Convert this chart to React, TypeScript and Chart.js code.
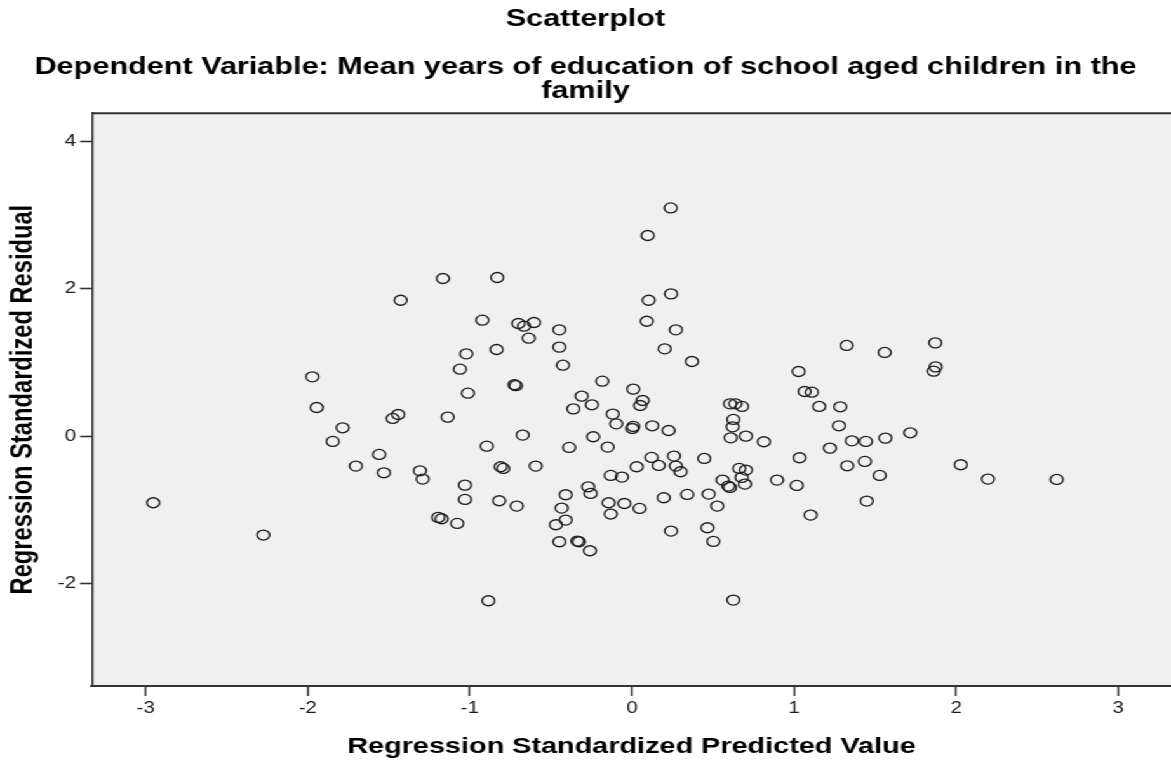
import React, { useEffect, useRef } from "react";
import { Chart, registerables } from "chart.js";

Chart.register(...registerables);

const TITLE = "Scatterplot";
const SUBTITLE = [
  "Dependent Variable: Mean years of education of school aged children in the",
  "family",
];
const X_TITLE = "Regression Standardized Predicted Value";
const Y_TITLE = "Regression Standardized Residual";
const X_TICKS = [-3, -2, -1, 0, 1, 2, 3];
const Y_TICKS = [-2, 0, 2, 4];

const predicted = [
  -2.953, -2.274, -1.972, -1.945, -1.785, -1.846, -1.703, -1.559, -1.53, -1.476, -1.442, -1.427,
  0.239, 0.097, -1.166, -0.831, 0.103, 0.241, -0.923, -0.701, -0.666, -0.605, -0.448, -0.637,
  0.091, 0.271, 0.202, 0.37, -0.448, -0.426, -1.022, -0.835, -1.061, -1.012, -0.725, -0.716,
  -0.183, -0.31, -0.247, -0.362, 0.008, 0.066, 0.051, -0.119, -0.097, 0.008, 0.002, 0.125,
  0.226, 0.605, 0.638, 0.679, 0.625, 0.621, -1.137, -0.674,
  0.609, 0.703, 0.814, -0.896, -0.387, -0.239, -0.15, -1.308, -1.291, -0.81, -0.794, -0.594,
  -1.03, -1.03, -0.819, -0.711, -1.195, -1.174, -1.078, -0.886, -0.409, -0.434, -0.409, -0.469,
  -0.448, -0.337, -0.327, -0.259, -0.27, -0.255, -0.131, -0.062, 0.029, 0.121, 0.165, 0.259,
  0.271, 0.3, 0.446, -0.144, -0.131, -0.047, 0.047, 0.196, 0.341, 0.473, 0.526, 0.241,
  0.465, 0.502, 0.625, 0.559, 0.594, 0.605, 0.662, 0.703, 0.677, 0.697, 0.895,
  1.324, 1.559, 1.871, 1.873, 1.861, 1.028, 1.065, 1.11, 1.155, 1.285, 1.277, 1.357,
  1.443, 1.563, 1.717, 1.221, 1.034, 1.328, 1.437, 1.528, 1.016, 2.028, 2.196, 2.62,
  1.448, 1.102,
];

const residual = [
  -0.905, -1.343, 0.805, 0.389, 0.113, -0.072, -0.407, -0.248, -0.498, 0.24, 0.294, 1.845,
  3.098, 2.723, 2.14, 2.153, 1.845, 1.931, 1.574, 1.529, 1.493, 1.543, 1.443, 1.33,
  1.56, 1.443, 1.185, 1.013, 1.208, 0.963, 1.117, 1.176, 0.909, 0.583, 0.697, 0.685,
  0.746, 0.543, 0.425, 0.37, 0.638, 0.484, 0.416, 0.299, 0.167, 0.132, 0.104, 0.14,
  0.077, 0.438, 0.438, 0.403, 0.227, 0.126, 0.258, 0.014,
  -0.023, 0.0, -0.077, -0.136, -0.153, -0.009, -0.149, -0.471, -0.583, -0.416, -0.438, -0.407,
  -0.665, -0.859, -0.877, -0.95, -1.103, -1.122, -1.185, -2.235, -0.796, -0.977, -1.14, -1.203,
  -1.434, -1.425, -1.434, -1.556, -0.688, -0.778, -0.533, -0.556, -0.416, -0.289, -0.398, -0.271,
  -0.407, -0.484, -0.303, -0.905, -1.058, -0.914, -0.981, -0.837, -0.791, -0.787, -0.95, -1.289,
  -1.244, -1.429, -2.226, -0.597, -0.678, -0.696, -0.438, -0.461, -0.56, -0.651, -0.597,
  1.231, 1.136, 1.266, 0.94, 0.882, 0.877, 0.606, 0.597, 0.403, 0.398, 0.14, -0.064,
  -0.072, -0.027, 0.045, -0.163, -0.294, -0.403, -0.343, -0.533, -0.669, -0.389, -0.583, -0.588,
  -0.882, -1.072,
];

const OUT_W = 1171;
const H = 761;
const NAT_W = 922;
const STRETCH = OUT_W / NAT_W;
const FONT = "'Liberation Sans', Arial, Helvetica, sans-serif";

const plotFrame = {
  id: "plotFrame",
  beforeDraw(chart: any) {
    const { ctx, chartArea } = chart;
    ctx.save();
    ctx.fillStyle = "#f0f0f0";
    ctx.fillRect(chartArea.left, chartArea.top, chartArea.right - chartArea.left, chartArea.bottom - chartArea.top);
    ctx.restore();
  },
  afterDraw(chart: any) {
    const { ctx, chartArea } = chart;
    ctx.save();
    ctx.strokeStyle = "#333";
    ctx.lineWidth = 2;
    ctx.beginPath();
    ctx.moveTo(chartArea.left, chartArea.top);
    ctx.lineTo(chartArea.right, chartArea.top);
    ctx.stroke();
    ctx.restore();
  },
};

export default function App() {
  const ref = useRef<HTMLCanvasElement>(null);

  useEffect(() => {
    const canvas = ref.current;
    if (!canvas) return;
    const points = predicted.map((x, i) => ({ x, y: residual[i] }));
    const chart = new Chart(canvas, {
      type: "scatter",
      data: {
        datasets: [
          {
            data: points,
            pointStyle: "circle",
            pointRadius: 5,
            pointHoverRadius: 5,
            pointBorderWidth: 1.35,
            pointBorderColor: "#1c1c1c",
            pointBackgroundColor: "rgba(0,0,0,0)",
          },
        ],
      },
      options: {
        responsive: false,
        animation: false,
        layout: { padding: 0, autoPadding: false },
        plugins: {
          legend: { display: false },
          tooltip: { enabled: false },
          title: {
            display: true,
            text: TITLE,
            color: "#000",
            font: { family: FONT, size: 24, weight: "bold", lineHeight: 1.2 },
            padding: { top: 5, bottom: 20.8 },
          },
          subtitle: {
            display: true,
            text: SUBTITLE,
            color: "#000",
            font: { family: FONT, size: 24.1, weight: "bold", lineHeight: 1.03 },
            padding: { top: 0, bottom: 9 },
          },
        },
        scales: {
          x: {
            type: "linear",
            min: -3.331,
            max: 3.325,
            afterFit: (s: any) => {
              s.height = 75;
              s.paddingLeft = 0;
              s.paddingRight = 0;
            },
            afterBuildTicks: (s: any) => {
              s.ticks = X_TICKS.map((v) => ({ value: v }));
            },
            ticks: {
              callback: (v: any) => String(v),
              color: "#1a1a1a",
              font: { family: FONT, size: 16 },
              padding: 2.5,
              maxRotation: 0,
              autoSkip: false,
            },
            grid: {
              drawOnChartArea: false,
              drawTicks: true,
              tickLength: 10,
              tickColor: "#333",
              tickWidth: 1.5,
              color: "#333",
            },
            border: { display: true, color: "#333", width: 2 },
            title: {
              display: true,
              text: X_TITLE,
              color: "#000",
              font: { family: FONT, size: 22.7, weight: "bold", lineHeight: 1.2 },
              padding: { top: 0, bottom: 1 },
            },
          },
          y: {
            type: "linear",
            min: -3.392,
            max: 4.383,
            afterFit: (s: any) => {
              s.width = 92 / STRETCH;
              s.paddingTop = 0;
              s.paddingBottom = 0;
            },
            afterBuildTicks: (s: any) => {
              s.ticks = Y_TICKS.map((v) => ({ value: v }));
            },
            ticks: {
              callback: (v: any) => String(v),
              color: "#1a1a1a",
              font: { family: FONT, size: 16 },
              padding: 3.2,
              autoSkip: false,
            },
            grid: {
              drawOnChartArea: false,
              drawTicks: true,
              tickLength: 9.4,
              tickColor: "#333",
              tickWidth: 1.6,
              color: "#333",
            },
            border: { display: true, color: "#333", width: 1.5 },
            title: {
              display: true,
              text: Y_TITLE,
              color: "#000",
              font: { family: FONT, size: 23.7, weight: "bold", lineHeight: 1.2 },
              padding: { top: 3.9, bottom: 0 },
            },
          },
        },
      },
      plugins: [plotFrame],
    } as any);
    return () => chart.destroy();
  }, []);

  return (
    <div
      style={{
        position: "absolute",
        left: 0,
        top: 0,
        width: NAT_W,
        height: H,
        transform: `scaleX(${STRETCH})`,
        transformOrigin: "0 0",
        background: "#fff",
      }}
    >
      <canvas ref={ref} width={NAT_W} height={H} style={{ display: "block" }} />
    </div>
  );
}
